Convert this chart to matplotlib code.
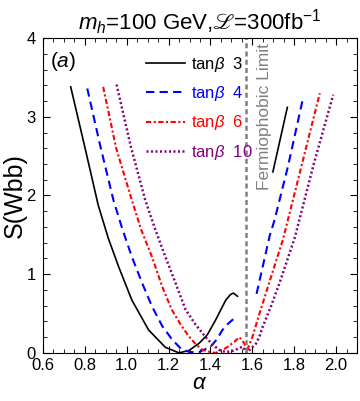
import numpy as np
import matplotlib
matplotlib.use("Agg")
import matplotlib.pyplot as plt
from matplotlib.ticker import MultipleLocator

plt.rcParams['font.family'] = ['Liberation Sans', 'DejaVu Sans']
plt.rcParams['mathtext.fontset'] = 'custom'
plt.rcParams['mathtext.rm'] = 'Liberation Sans'
plt.rcParams['mathtext.it'] = 'Liberation Sans:italic'
plt.rcParams['mathtext.fallback'] = 'stix'

nan = np.nan
# tan(beta) = 3
tb3_alpha = [0.733, 0.80, 0.864, 0.912, 0.961, 1.025, 1.105, 1.185, 1.25, 1.297, 1.345, 1.385, 1.425, 1.473, 1.495, 1.509, 1.529,
             nan, 1.698, 1.767]
tb3_S = [3.38, 2.62, 1.88, 1.46, 1.10, 0.67, 0.29, 0.07, 0.0, 0.03, 0.12, 0.23, 0.42, 0.67, 0.74, 0.76, 0.72,
         nan, 2.30, 3.12]
# tan(beta) = 4
tb4_alpha = [0.812, 0.875, 0.937, 0.98, 1.025, 1.075, 1.121, 1.17, 1.217, 1.26, 1.30, 1.345, 1.401, 1.43, 1.457, 1.48, 1.505, 1.534,
             nan, 1.62, 1.682, 1.706, 1.770, 1.842]
tb4_S = [3.36, 2.62, 1.94, 1.57, 1.22, 0.88, 0.59, 0.34, 0.17, 0.05, 0.01, 0.01, 0.08, 0.17, 0.29, 0.36, 0.42, 0.44,
         nan, 0.75, 1.48, 1.69, 2.37, 3.24]
# tan(beta) = 6
tb6_alpha = [0.888, 0.95, 1.025, 1.07, 1.121, 1.17, 1.215, 1.26, 1.297, 1.33, 1.361, 1.40, 1.425, 1.473, 1.514, 1.538, 1.562, 1.573,
             1.601, 1.634, 1.685, 1.746, 1.834, 1.922]
tb6_S = [3.38, 2.60, 1.94, 1.56, 1.22, 0.84, 0.55, 0.35, 0.21, 0.11, 0.04, 0.01, 0.0, 0.06, 0.14, 0.20, 0.12, 0.02,
         0.21, 0.50, 0.93, 1.44, 2.37, 3.30]
# tan(beta) = 10
tb10_alpha = [0.952, 1.02, 1.089, 1.135, 1.185, 1.233, 1.281, 1.329, 1.377, 1.409, 1.44, 1.473, 1.50, 1.521, 1.553, 1.573,
              1.618, 1.634, 1.649, 1.69, 1.730, 1.802, 1.890, 1.986]
tb10_S = [3.41, 2.62, 1.94, 1.58, 1.22, 0.89, 0.55, 0.36, 0.20, 0.11, 0.04, 0.01, 0.02, 0.04, 0.08, 0.0,
          0.12, 0.21, 0.33, 0.60, 0.89, 1.46, 2.37, 3.28]

labels = ["tan$\\beta$  3", "tan$\\beta$  4", "tan$\\beta$  6", "tan$\\beta$  10"]
colors = ["black", "#0000ff", "#ff0000", "#800080"]
fermiophobic = np.pi / 2

fig = plt.figure(figsize=(3.6, 4.01), dpi=100)
ax = fig.add_axes([0.119, 0.12, 0.873, 0.785])

ax.plot(tb3_alpha, tb3_S, color=colors[0], lw=1.2, label=labels[0])
ax.plot(tb4_alpha, tb4_S, color=colors[1], lw=1.5, dashes=(4, 2.5), label=labels[1])
ax.plot(tb6_alpha, tb6_S, color=colors[2], lw=1.5, dashes=(2.5, 1.2, 1, 1.2), label=labels[2])
ax.plot(tb10_alpha, tb10_S, color=colors[3], lw=1.8, dashes=(0.8, 1.0), label=labels[3])

ax.axvline(fermiophobic, color='#808080', lw=1.8, dashes=(2, 1.3))
ax.text(fermiophobic + 0.085, 3.93, "Fermiophobic Limit", rotation=90, va='top', ha='center',
        color='#808080', fontsize=12.5)
ax.text(0.635, 3.70, "($a$)", fontsize=15, va='center', ha='left')

ax.set_xlim(0.6, 2.1)
ax.set_ylim(0, 4)
ax.xaxis.set_major_locator(MultipleLocator(0.2))
ax.xaxis.set_minor_locator(MultipleLocator(0.05))
ax.yaxis.set_major_locator(MultipleLocator(1))
ax.yaxis.set_minor_locator(MultipleLocator(0.2))
ax.xaxis.set_major_formatter(matplotlib.ticker.FormatStrFormatter('%.1f'))
ax.tick_params(which='both', direction='in', top=True, right=True, labelsize=12, pad=2)
ax.tick_params(axis='x', which='major', pad=4)
ax.tick_params(axis='y', which='major', pad=5)
ax.tick_params(which='major', length=5, width=0.8)
ax.tick_params(which='minor', length=3, width=0.6)

ax.set_xlabel("$\\alpha$", fontsize=16, labelpad=0)
ax.set_ylabel("S(Wbb)", fontsize=18, labelpad=0)
ax.set_title("$m_h$=100 GeV,$ℒ$=300fb$^{-1}$", fontsize=16, pad=6)

leg = ax.legend(loc='upper left', bbox_to_anchor=(0.282, 0.995), frameon=False, fontsize=12,
                handlelength=2.3, labelspacing=0.62, handletextpad=0.4, labelcolor='linecolor')

fig.savefig("out.png", dpi=100)
